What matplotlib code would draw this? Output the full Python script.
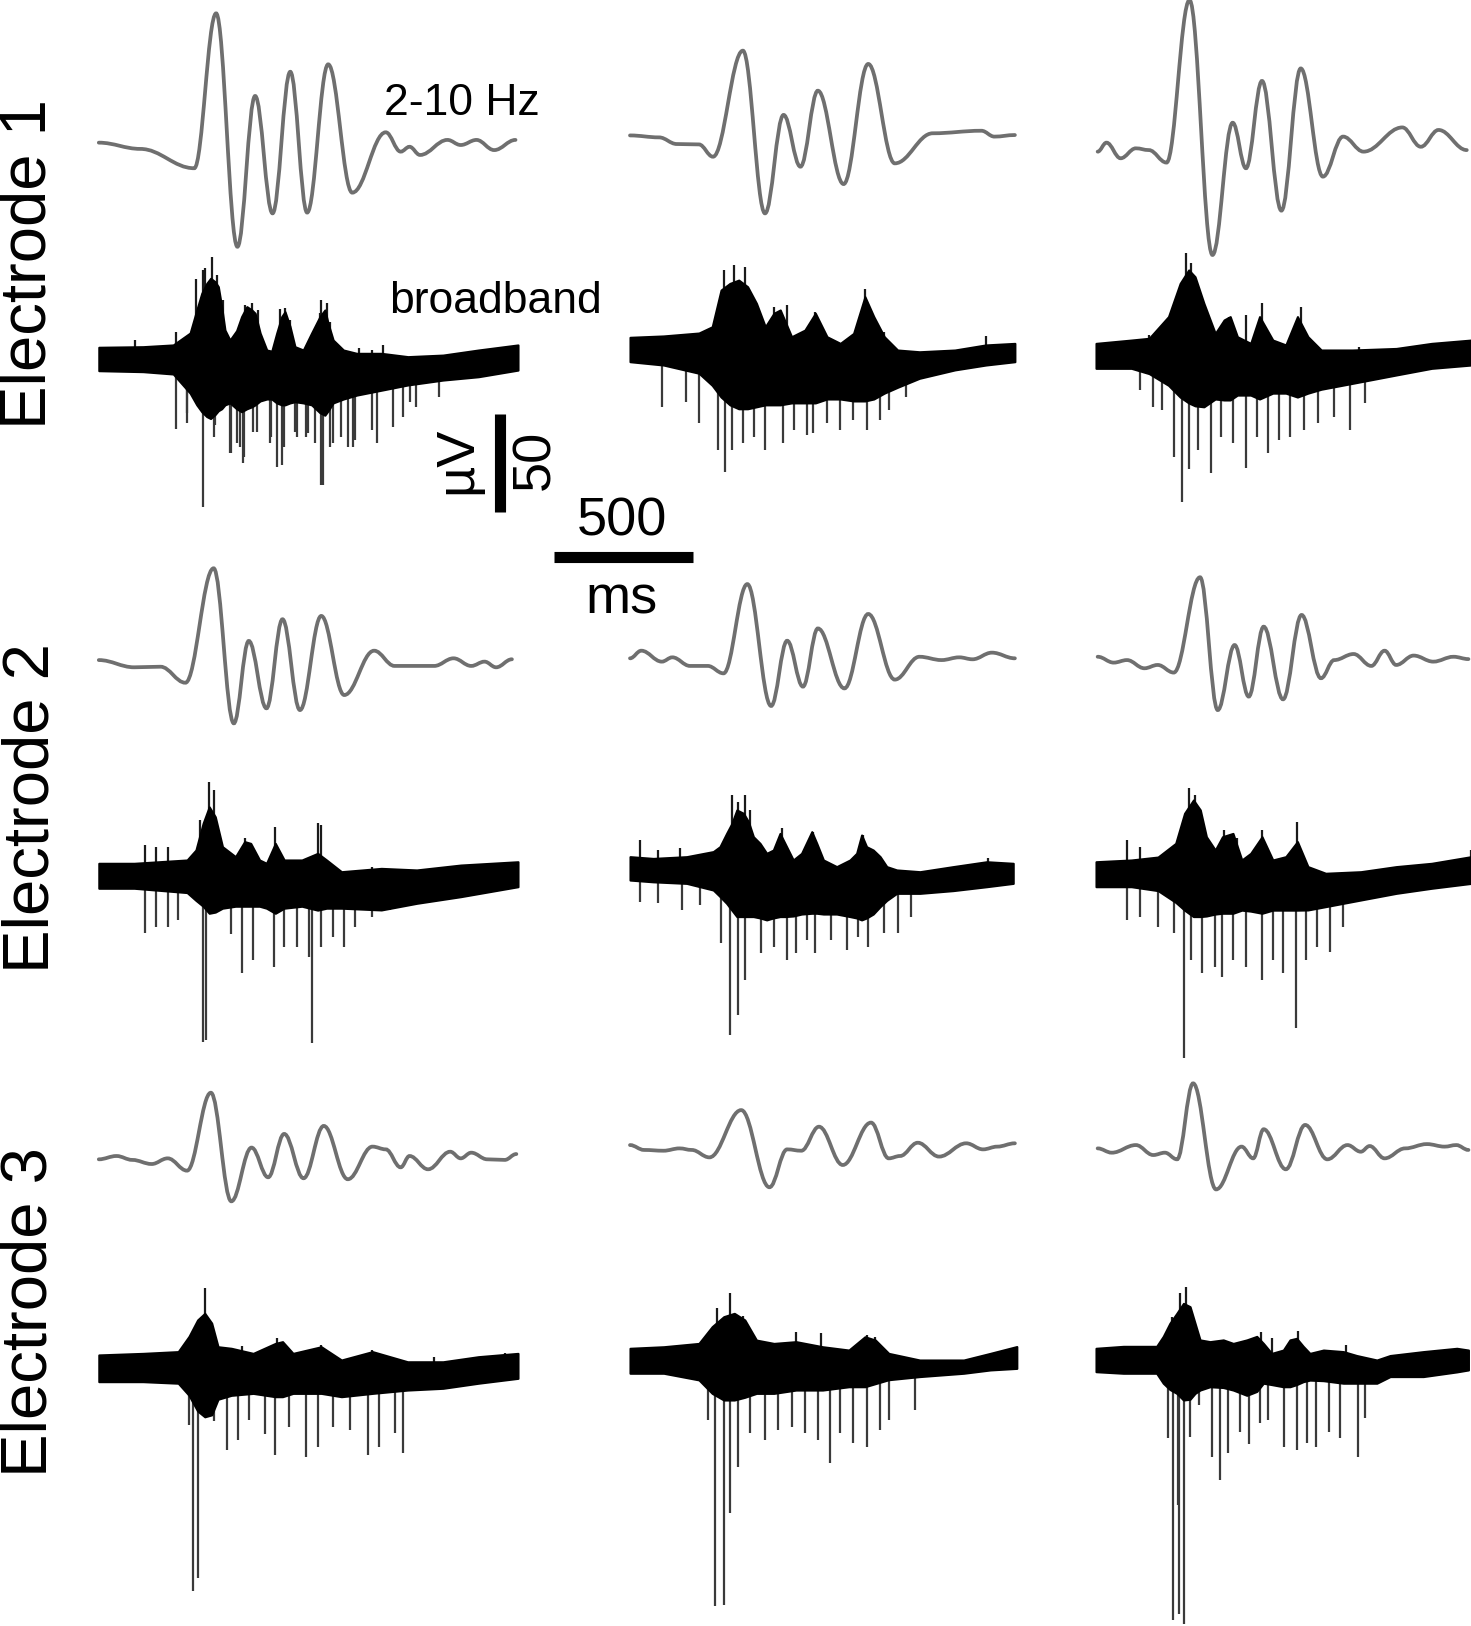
import numpy as np
import matplotlib
matplotlib.use('Agg')
import matplotlib.pyplot as plt
from matplotlib.path import Path
from matplotlib.patches import PathPatch

# ---------------- 2-10 Hz filtered traces (extrema: time ms, amplitude uV) ----------------
e1c1_filt_t = [0, 150, 345, 424, 501, 565, 628, 692, 753, 829, 916, 1037, 1091, 1123, 1161, 1260, 1308, 1365, 1429, 1506]
e1c1_filt_v = [1.2, -2.0, -11.9, 67.4, -52.1, 25.1, -35.0, 37.5, -34.6, 41.3, -24.4, 6.5, -3.4, -0.9, -5.1, 2.6, 0, 2.6, -2.6, 2.6]
e1c2_filt_t = [0, 105, 169, 249, 300, 408, 488, 555, 616, 679, 772, 861, 957, 1094, 1270, 1317, 1391]
e1c2_filt_v = [4.9, 3.9, 0.5, 0.3, -6.0, 48.3, -35.0, 15.4, -11.1, 27.8, -20.0, 41.5, -9.4, 6.0, 7.3, 4.3, 5.1]
e1c3_filt_t = [6, 38, 89, 144, 191, 255, 338, 421, 494, 542, 600, 670, 740, 820, 893, 967, 1107, 1174, 1238, 1340]
e1c3_filt_v = [-3.4, 1.2, -6.8, -1.7, -2.6, -9.0, 74.2, -56.3, 11.4, -11.9, 32.8, -33.6, 39.2, -16.2, 4.3, -3.4, 9.0, -0.9, 7.7, -2.6]

e2c1_filt_t = [0, 128, 223, 313, 415, 488, 542, 606, 664, 727, 804, 887, 995, 1069, 1212, 1282, 1346, 1394, 1436, 1493]
e2c1_filt_v = [1.5, -2.2, -1.9, -10.1, 48.5, -30.9, 11.3, -23.2, 22.4, -24.1, 24.1, -16.4, 6.3, -1.5, -1.5, 2.4, -1.5, 0.7, -2.2, 1.9]
e2c2_filt_t = [0, 41, 115, 153, 217, 281, 338, 424, 510, 568, 625, 679, 775, 861, 957, 1046, 1126, 1190, 1238, 1308, 1391]
e2c2_filt_v = [2.4, 6.3, 0.7, 2.9, -1.5, -1.5, -5.3, 40.4, -22.0, 11.4, -12.1, 17.7, -13.0, 25.1, -8.5, 3.2, 1.5, 2.9, 1.9, 5.3, 2.4]
e2c3_filt_t = [6, 64, 112, 175, 223, 281, 376, 440, 501, 552, 606, 676, 743, 813, 861, 931, 995, 1043, 1085, 1148, 1219, 1292, 1346]
e2c3_filt_v = [3.2, 0.2, 1.5, -2.7, -1.0, -4.9, 43.9, -24.1, 9.2, -17.2, 18.6, -18.6, 24.6, -7.8, 1.5, 4.6, -1.5, 6.3, -1.0, 3.8, 0.7, 3.2, 2.0]

e3c1_filt_t = [0, 64, 121, 191, 249, 319, 405, 479, 552, 612, 670, 740, 813, 900, 989, 1037, 1091, 1123, 1190, 1270, 1308, 1346, 1404, 1467, 1509]
e3c1_filt_v = [-1.7, 0, -2.0, -4.1, -1.2, -7.5, 32.4, -23.2, 4.3, -10.9, 11.3, -11.4, 15.4, -11.9, 4.8, 3.4, -5.8, 0, -6.8, 2.2, -1.2, 1.7, -1.7, -2.0, 1.0]
e3c2_filt_t = [0, 51, 121, 179, 223, 287, 402, 504, 568, 619, 683, 769, 871, 935, 976, 1040, 1117, 1215, 1276, 1327, 1391]
e3c2_filt_v = [5.6, 3.1, 2.7, 3.9, 3.1, -0.7, 23.5, -16.0, 3.4, 2.7, 15.0, -4.6, 17.1, -1.2, 0, 6.8, -0.3, 6.5, 3.4, 4.8, 6.5]
e3c3_filt_t = [6, 57, 144, 207, 249, 293, 351, 434, 526, 568, 606, 686, 756, 836, 909, 957, 989, 1043, 1117, 1196, 1260, 1302, 1346]
e3c3_filt_v = [3.9, 1.7, 5.6, 0.5, 1.7, -1.7, 37.2, -17.1, 4.8, -1.2, 13.7, -6.8, 15.9, -1.7, 5.6, 2.2, 5.1, -1.2, 3.9, 6.1, 4.8, 5.6, 3.1]

# ---------------- broadband traces: envelope of dense noise + single spikes ----------------
e1c1_env_t = [0, 160, 269, 330, 354, 372, 390, 404, 420, 432, 444, 456, 474, 498, 516, 535, 553, 565, 583, 607, 625, 643, 661, 673, 691, 709, 739, 769, 799, 817, 829, 847, 884, 932, 1021, 1117, 1244, 1372, 1515]
e1c1_env_hi = [5.5, 5.8, 6.7, 12.8, 24.6, 33.1, 38.2, 40.8, 39.1, 36.5, 26.3, 14.3, 9.2, 14.0, 21.2, 26.3, 24.6, 22.9, 12.8, 4.1, 3.5, 12.8, 21.2, 23.7, 16.2, 5.8, 4.1, 12.8, 21.2, 24.6, 17.6, 9.2, 4.1, 2.4, 2.4, 0.7, 1.5, 4.1, 6.7]
e1c1_env_lo = [-6.5, -7.0, -8.2, -18, -24, -27.5, -30, -31, -29, -27, -26, -24, -23, -26, -27.5, -26, -25, -24, -22, -21, -21, -23, -24, -24, -23, -22.4, -23, -24, -28, -29.3, -27, -23, -21, -19, -16.5, -13.8, -11.3, -9.6, -6.2]
e1c1_up_t = [131, 278, 351, 360, 376, 384, 408, 426, 450, 530, 552, 574, 654, 673, 691, 799, 804, 823, 836, 941, 989, 1028]
e1c1_up_v = [9.2, 13.5, 40.6, 25.4, 45.0, 45.9, 51.9, 42.5, 29.7, 27.1, 28.0, 24.6, 25.3, 25.4, 19.5, 22.9, 29.7, 28.0, 18.6, 4.9, 4.1, 6.7]
e1c1_dn_t = [278, 318, 319, 376, 415, 420, 474, 479, 498, 510, 522, 526, 558, 571, 619, 622, 644, 661, 670, 708, 715, 750, 757, 782, 804, 809, 836, 845, 877, 900, 920, 925, 989, 1004, 1064, 1101, 1125, 1148, 1228]
e1c1_dn_v = [-36.5, -28.3, -33.1, -76.1, -40.3, -34.3, -48.8, -48.8, -43.7, -45.4, -53.9, -50.5, -37.7, -37.7, -43.7, -40.3, -55.6, -54.8, -45.4, -37.7, -40.3, -40.3, -38.6, -43.7, -65.0, -65.0, -45.4, -43.7, -40.3, -45.4, -45.4, -42.0, -36.9, -43.7, -35.2, -30.0, -22.4, -24.9, -19.8]

e1c2_env_t = [0, 121, 249, 297, 329, 361, 393, 425, 457, 489, 520, 543, 584, 632, 670, 712, 760, 808, 849, 881, 919, 967, 1046, 1174, 1286, 1391]
e1c2_env_hi = [10.6, 11.3, 12.8, 16.0, 34.8, 38.2, 39.9, 36.5, 28.0, 16.0, 22.9, 24.6, 10.9, 14.3, 22.9, 10.9, 7.5, 12.6, 31.4, 21.2, 10.9, 4.1, 3.2, 4.1, 6.7, 7.5]
e1c2_env_lo = [-1.9, -3.6, -7.8, -14, -20, -24, -26, -26, -25, -24, -24, -24, -23, -23, -23, -21, -21, -22, -22, -21, -18, -15, -10.4, -6.1, -3.6, -1.9]
e1c2_up_t = [338, 376, 415, 520, 568, 670, 849, 919, 1286]
e1c2_up_v = [45.1, 47.6, 46.8, 26.3, 27.1, 23.7, 35.2, 13.5, 11.3]
e1c2_dn_t = [115, 201, 249, 319, 345, 370, 408, 447, 488, 552, 593, 638, 663, 711, 759, 807, 855, 903, 935, 998]
e1c2_dn_v = [-24.9, -22.4, -33.4, -47.1, -58.2, -47.1, -43.7, -40.3, -47.1, -43.7, -36.9, -39.4, -38.6, -33.4, -36.9, -31.7, -36.9, -31.7, -26.6, -19.8]

e1c3_env_t = [0, 128, 192, 262, 304, 335, 358, 390, 431, 463, 485, 511, 559, 591, 639, 686, 728, 766, 814, 926, 1085, 1213, 1356]
e1c3_env_hi = [7.5, 9.2, 10.1, 21.2, 38.2, 45.1, 41.6, 28.0, 12.6, 19.5, 21.2, 10.9, 7.5, 21.2, 9.2, 6.7, 21.2, 10.9, 4.1, 4.1, 4.9, 7.5, 9.2]
e1c3_env_lo = [-5.3, -5.3, -8, -14, -20, -23, -24.5, -25, -21, -21.5, -21.5, -19, -19, -21, -18, -18, -20, -18, -16, -13, -8.7, -5.3, -3.6]
e1c3_up_t = [191, 325, 345, 479, 542, 600, 740, 951]
e1c3_up_v = [11.8, 53.6, 48.5, 21.2, 22.0, 28.0, 26.3, 5.8]
e1c3_dn_t = [160, 207, 239, 281, 309, 335, 367, 415, 453, 494, 542, 581, 622, 660, 702, 750, 804, 861, 919, 973]
e1c3_dn_v = [-16.4, -24.9, -26.6, -50.5, -73.5, -57.0, -47.1, -59.0, -40.3, -43.7, -56.3, -40.3, -48.8, -42.0, -40.3, -36.9, -33.4, -30.0, -36.9, -23.2]

e2c1_env_t = [0, 128, 319, 351, 377, 399, 421, 447, 494, 527, 549, 581, 606, 638, 670, 734, 791, 823, 877, 1021, 1149, 1308, 1515]
e2c1_env_hi = [6.0, 6.0, 7.7, 12.8, 26.5, 34.9, 29.8, 14.5, 9.4, 17.1, 16.2, 7.7, 6.0, 16.2, 7.7, 7.7, 11.1, 7.7, 1.7, 3.4, 2.6, 5.1, 6.8]
e2c1_env_lo = [-6.8, -6.8, -9, -13, -16, -19.6, -19, -17, -16, -16, -16, -16, -17, -19.6, -17, -16, -18, -17, -17, -17.9, -14.5, -11.1, -6.0]
e2c1_up_t = [166, 207, 249, 367, 399, 415, 530, 638, 791, 804, 989]
e2c1_up_v = [15.4, 14.5, 14.5, 28.2, 47.8, 43.5, 18.8, 24.7, 26.5, 25.6, 4.3]
e2c1_dn_t = [166, 207, 249, 287, 376, 389, 479, 517, 558, 632, 670, 718, 759, 772, 804, 845, 887, 925, 989, 1053]
e2c1_dn_v = [-29.9, -26.5, -26.5, -23.0, -85.3, -84.5, -30.0, -50.3, -43.5, -46.9, -36.7, -36.7, -41.8, -86.2, -36.7, -31.6, -36.7, -26.5, -21.3, -18.0]

e2c2_env_t = [0, 84, 205, 301, 325, 349, 368, 386, 410, 428, 446, 470, 494, 518, 542, 560, 590, 620, 657, 675, 699, 747, 795, 819, 837, 855, 879, 904, 928, 964, 1048, 1168, 1289, 1385]
e2c2_env_hi = [9.4, 8.5, 9.4, 12.0, 14.5, 21.3, 26.4, 33.3, 31.6, 27.3, 19.6, 16.2, 11.1, 12.8, 21.3, 16.2, 7.7, 11.1, 22.2, 16.2, 7.7, 4.3, 7.7, 11.1, 20.5, 14.5, 12.8, 9.4, 4.3, 2.6, 1.7, 4.3, 6.8, 6.0]
e2c2_env_lo = [-2.6, -3.5, -4.3, -7.7, -11, -14.5, -18, -21.3, -21.3, -21.3, -21.3, -22, -23, -22, -21.3, -21.3, -21, -20, -19.6, -19.6, -20, -20, -21.3, -22, -23, -22, -20, -16.2, -13, -9.4, -9.4, -8, -6, -4.3]
e2c2_up_t = [36, 102, 179, 368, 392, 416, 434, 548, 662, 843, 1295]
e2c2_up_v = [17.9, 12.8, 13.7, 41.0, 37.5, 41.0, 33.3, 23.9, 22.2, 20.5, 8.5]
e2c2_dn_t = [36, 102, 187, 253, 329, 361, 392, 416, 472, 520, 568, 600, 638, 670, 727, 785, 823, 861, 919, 967, 1014]
e2c2_dn_v = [-13.7, -14.5, -17.9, -15.4, -35.0, -81.9, -71.7, -53.8, -40.1, -36.7, -43.5, -40.1, -33.3, -40.1, -33.3, -38.4, -31.6, -36.7, -29.9, -29.9, -21.3]

e2c3_env_t = [0, 128, 224, 288, 320, 352, 377, 399, 431, 457, 495, 527, 559, 600, 639, 686, 728, 766, 830, 957, 1085, 1213, 1356]
e2c3_env_hi = [6.8, 7.7, 9.2, 16.2, 31.6, 38.4, 33.3, 19.6, 12.8, 19.6, 21.3, 7.7, 11.1, 19.6, 7.7, 9.4, 17.1, 4.3, 0.9, 1.7, 4.3, 6.0, 9.4]
e2c3_env_lo = [-6.0, -6.0, -8, -14, -18, -21.3, -21.3, -21, -20, -19.6, -19.6, -18, -18.5, -19.6, -18, -18, -18, -17.9, -16.2, -12.8, -9.4, -6.8, -4.3]
e2c3_up_t = [112, 160, 335, 357, 463, 510, 600, 727, 1356]
e2c3_up_v = [17.9, 14.5, 44.4, 41.0, 23.0, 18.8, 23.0, 27.3, 12.8]
e2c3_dn_t = [112, 160, 223, 281, 319, 345, 383, 431, 456, 494, 542, 600, 638, 676, 721, 759, 798, 845, 893]
e2c3_dn_v = [-23.0, -21.3, -26.5, -29.9, -93.9, -43.5, -50.3, -46.9, -52.0, -43.5, -46.9, -53.8, -43.5, -50.3, -78.5, -43.5, -36.7, -39.2, -26.5]

e3c1_env_t = [0, 160, 287, 326, 357, 383, 408, 431, 479, 558, 638, 664, 702, 804, 877, 989, 1116, 1244, 1372, 1515]
e3c1_env_hi = [6.7, 7.5, 8.4, 16.2, 24.6, 28.0, 23.0, 10.9, 10.1, 7.5, 12.6, 13.5, 7.5, 10.9, 4.1, 8.4, 3.2, 3.2, 5.8, 7.5]
e3c1_env_lo = [-7.0, -7.0, -7.8, -14, -22, -25, -24, -16, -14, -13, -14.7, -14.7, -13, -13, -14.7, -13, -11.3, -10.4, -7.8, -5.3]
e3c1_up_t = [367, 383, 517, 644, 804, 989, 1212, 1467]
e3c1_up_v = [24.6, 40.8, 11.1, 15.2, 11.9, 9.2, 5.8, 7.5]
e3c1_dn_t = [325, 341, 357, 415, 463, 504, 542, 600, 638, 686, 750, 791, 845, 909, 973, 1014, 1069, 1101]
e3c1_dn_v = [-29.2, -114.2, -107.3, -27.1, -42.0, -36.9, -26.8, -33.6, -44.7, -30.2, -45.4, -40.3, -30.2, -31.9, -44.7, -40.3, -33.4, -43.7]

e3c2_env_t = [0, 122, 249, 297, 339, 377, 415, 457, 520, 600, 696, 791, 849, 887, 935, 1047, 1206, 1302, 1398]
e3c2_env_hi = [10.1, 10.9, 12.6, 21.2, 26.3, 28.0, 24.6, 14.3, 12.6, 13.5, 10.9, 9.2, 16.0, 14.3, 7.5, 4.1, 4.1, 7.5, 11.0]
e3c2_env_lo = [-2.7, -2.7, -6.1, -13, -16.4, -16.4, -15, -13, -13, -11.3, -11.3, -9.6, -9.6, -8, -6, -4.4, -2.7, -1.0, -0.2]
e3c2_up_t = [313, 360, 408, 600, 689, 855, 887]
e3c2_up_v = [30.5, 38.2, 26.6, 18.6, 17.7, 16.9, 16.0]
e3c2_dn_t = [281, 306, 338, 360, 392, 434, 488, 536, 584, 632, 679, 721, 759, 807, 855, 903, 935, 1030]
e3c2_dn_v = [-26.6, -122.1, -121.3, -74.4, -50.5, -33.4, -36.9, -31.7, -30.0, -33.4, -36.9, -48.8, -33.4, -38.6, -40.3, -31.7, -26.6, -21.5]

e3c3_env_t = [0, 99, 219, 243, 267, 292, 316, 340, 358, 376, 412, 460, 496, 545, 581, 605, 635, 677, 701, 725, 749, 773, 822, 894, 942, 1015, 1063, 1183, 1304, 1346]
e3c3_env_hi = [10.1, 11.1, 11.1, 16.2, 22.9, 28.0, 33.1, 31.4, 22.9, 14.4, 13.5, 14.4, 12.6, 14.4, 16.2, 12.6, 7.5, 9.2, 14.4, 15.2, 11.1, 7.5, 9.2, 8.4, 6.4, 4.1, 6.4, 8.4, 10.1, 9.2]
e3c3_env_lo = [-1.9, -2.7, -2.7, -7.8, -11, -13, -16.4, -16, -13, -11.3, -9.6, -10, -11.3, -14, -12, -7.8, -8.5, -9.6, -9.6, -8.5, -7, -6.2, -6.5, -7.8, -7.8, -7.8, -4.4, -4.4, -2, -1.0]
e3c3_up_t = [273, 303, 327, 598, 635, 731, 904]
e3c3_up_v = [26.3, 38.2, 41.6, 18.6, 15.2, 19.1, 11.8]
e3c3_dn_t = [261, 280, 297, 301, 319, 340, 373, 418, 448, 478, 520, 554, 593, 623, 680, 725, 761, 795, 843, 882, 948, 972]
e3c3_dn_v = [-36.0, -129, -70, -126, -131, -35.2, -19, -45.4, -57.4, -43.7, -32.6, -38.9, -28.3, -26.6, -40.3, -42, -38.6, -40.3, -32.6, -36, -45.4, -25.8]

row_labels = ['Electrode 1', 'Electrode 2', 'Electrode 3']
scale_ms = 500
scale_uv = 50

# ---------------- layout (figure pixels) ----------------
W, H = 1471, 1626
PX_PER_MS = 0.2767
PX_PER_UV = 1.953
col_x0_px = [98.8, 630, 1096]
filt_base_px = [145, 663, 1156]
broad_base_px = [358, 875, 1368]
label_pos_px = [(29, 264), (32, 808), (30, 1312)]

FILT_COLOR = '#6f6f6f'
FONT = 'Liberation Sans'


def xpx(px):
    return px / PX_PER_MS


def ypx(px):
    return -px / PX_PER_UV


def wave_path(t, v, x0, y0, k=0.38):
    # smooth curve through extrema, flat tangent at each extremum
    verts = [(x0 + t[0], y0 + v[0])]
    codes = [Path.MOVETO]
    for i in range(len(t) - 1):
        dt = t[i + 1] - t[i]
        verts.append((x0 + t[i] + k * dt, y0 + v[i]))
        verts.append((x0 + t[i + 1] - k * dt, y0 + v[i + 1]))
        verts.append((x0 + t[i + 1], y0 + v[i + 1]))
        codes += [Path.CURVE4] * 3
    return Path(verts, codes)


filt = [[(e1c1_filt_t, e1c1_filt_v), (e1c2_filt_t, e1c2_filt_v), (e1c3_filt_t, e1c3_filt_v)],
        [(e2c1_filt_t, e2c1_filt_v), (e2c2_filt_t, e2c2_filt_v), (e2c3_filt_t, e2c3_filt_v)],
        [(e3c1_filt_t, e3c1_filt_v), (e3c2_filt_t, e3c2_filt_v), (e3c3_filt_t, e3c3_filt_v)]]
broad = [[(e1c1_env_t, e1c1_env_hi, e1c1_env_lo, e1c1_up_t, e1c1_up_v, e1c1_dn_t, e1c1_dn_v),
          (e1c2_env_t, e1c2_env_hi, e1c2_env_lo, e1c2_up_t, e1c2_up_v, e1c2_dn_t, e1c2_dn_v),
          (e1c3_env_t, e1c3_env_hi, e1c3_env_lo, e1c3_up_t, e1c3_up_v, e1c3_dn_t, e1c3_dn_v)],
         [(e2c1_env_t, e2c1_env_hi, e2c1_env_lo, e2c1_up_t, e2c1_up_v, e2c1_dn_t, e2c1_dn_v),
          (e2c2_env_t, e2c2_env_hi, e2c2_env_lo, e2c2_up_t, e2c2_up_v, e2c2_dn_t, e2c2_dn_v),
          (e2c3_env_t, e2c3_env_hi, e2c3_env_lo, e2c3_up_t, e2c3_up_v, e2c3_dn_t, e2c3_dn_v)],
         [(e3c1_env_t, e3c1_env_hi, e3c1_env_lo, e3c1_up_t, e3c1_up_v, e3c1_dn_t, e3c1_dn_v),
          (e3c2_env_t, e3c2_env_hi, e3c2_env_lo, e3c2_up_t, e3c2_up_v, e3c2_dn_t, e3c2_dn_v),
          (e3c3_env_t, e3c3_env_hi, e3c3_env_lo, e3c3_up_t, e3c3_up_v, e3c3_dn_t, e3c3_dn_v)]]

fig = plt.figure(figsize=(W / 100, H / 100), dpi=100)
ax = fig.add_axes([0, 0, 1, 1])
ax.set_xlim(0, xpx(W))
ax.set_ylim(ypx(H), 0)
ax.axis('off')

for r in range(3):
    for c in range(3):
        x0 = xpx(col_x0_px[c])
        # filtered
        t, v = filt[r][c]
        ax.add_patch(PathPatch(wave_path(t, v, x0, ypx(filt_base_px[r])),
                               fill=False, edgecolor=FILT_COLOR, lw=2.7, capstyle='round'))
        # broadband: spikes behind, dense band on top
        y0 = ypx(broad_base_px[r])
        et, hi, lo, ut, uv, dt_, dv = broad[r][c]
        ax.vlines(x0 + np.array(ut), y0, y0 + np.array(uv), color='#1a1a1a', lw=1.6, zorder=2)
        ax.vlines(x0 + np.array(dt_), y0, y0 + np.array(dv), color='#3a3a3a', lw=1.6, zorder=2)
        ax.fill_between(x0 + np.array(et), y0 + np.array(hi), y0 + np.array(lo),
                        facecolor='black', edgecolor='black', lw=1.5, zorder=3)

    lx, ly = label_pos_px[r]
    ax.text(xpx(lx), ypx(ly), row_labels[r], rotation=90, ha='center', va='center',
            fontsize=47, family=FONT)

# trace labels
ax.text(xpx(462), ypx(115), '2-10 Hz', ha='center', va='baseline', fontsize=32, family=FONT)
ax.text(xpx(496), ypx(313), 'broadband', ha='center', va='baseline', fontsize=32, family=FONT)

# scale bars
bx = xpx(500.3)
by = ypx(511.7)
ax.plot([bx, bx], [by, by + scale_uv], color='black', lw=8, solid_capstyle='butt')
hx = xpx(554.3)
hy = ypx(557)
ax.plot([hx, hx + scale_ms], [hy, hy], color='black', lw=8, solid_capstyle='butt')
ax.text(xpx(457), ypx(460), 'µV', rotation=90, ha='center', va='center', fontsize=39, family=FONT)
ax.text(xpx(535), ypx(460), str(scale_uv), rotation=90, ha='center', va='center', fontsize=39, family=FONT)
ax.text(xpx(622), ypx(536), str(scale_ms), ha='center', va='baseline', fontsize=39, family=FONT)
ax.text(xpx(622), ypx(613), 'ms', ha='center', va='baseline', fontsize=39, family=FONT)

fig.savefig('out.png', dpi=100)
